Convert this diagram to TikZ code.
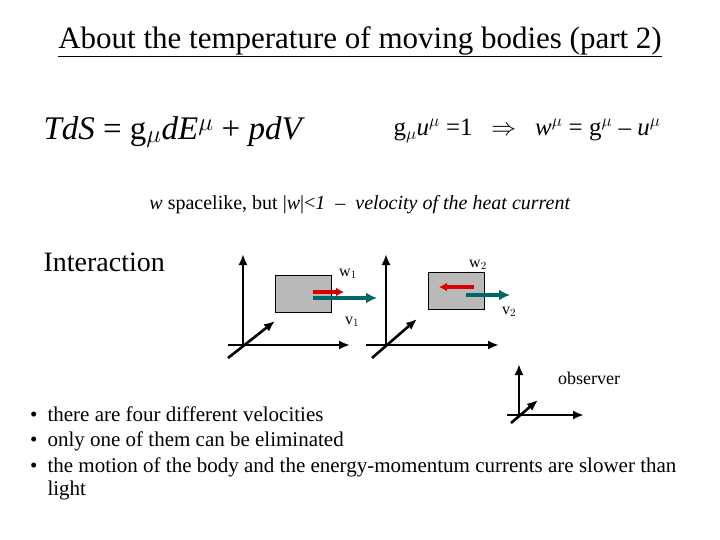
\documentclass[tikz,border=0pt]{standalone}
\usepackage{fontspec}
\setmainfont{Liberation Serif}
\usetikzlibrary{arrows.meta}
\newcommand{\sym}[1]{\textit{#1}}

\begin{document}
\begin{tikzpicture}[x=1pt, y=-1pt,
  axis/.style={line width=2.6pt, -{Latex[length=11pt,width=9pt]}},
  body/.style={draw, line width=0.8pt, fill=gray!55},
  heat/.style={red!85!black, line width=3.4pt, -{Latex[length=8pt,width=9pt]}},
  vel/.style={teal!80!black, line width=3.6pt, -{Latex[length=11pt,width=11pt]}},
  lbl/.style={font=\fontsize{16}{19}\selectfont}]

\useasboundingbox (0,0) rectangle (720,540);

\node (title) at (360,42) {\fontsize{31}{36}\selectfont\underline{About the temperature of moving bodies (part 2)}};

\node[anchor=west] (eqA) at (40,132) {\fontsize{33}{38}\selectfont \sym{TdS} = g$_{\mu}$\sym{dE}$^{\mu}$ + \sym{pdV}};
\node[anchor=west] (eqB) at (390,131) {\fontsize{25}{29}\selectfont g$_{\mu}$\sym{u}$^{\mu}$ =1 \ \ $\Rightarrow$ \ \ \sym{w}$^{\mu}$ = g$^{\mu}$ -- \sym{u}$^{\mu}$};

\node (note) at (360,205) {\fontsize{20}{24}\selectfont \sym{w} spacelike, but |\sym{w}|<\sym{1}\ \ --\ \ \sym{velocity of the heat current}};

\node[anchor=west] (inter) at (40,262) {\fontsize{28}{32}\selectfont Interaction};

% first frame
\coordinate (O1) at (243,345);
\draw[axis] (O1) -- (243,254);
\draw[axis] (228,345) -- (350,345);
\draw[axis] (228,358) -- (275,321);
\node[body, minimum width=56pt, minimum height=37pt, inner sep=0pt] (b1) at (303,293.5) {};
\draw[vel] (313,298) -- (377,298);
\draw[heat] (313,292) -- (344,292);
\node[lbl] (w1) at (348,274) {w$_1$};
\node[lbl] (v1) at (352,322) {v$_1$};

% second frame
\coordinate (O2) at (386,345);
\draw[axis] (O2) -- (386,254);
\draw[axis] (366,345) -- (499,345);
\draw[axis] (372,358) -- (417,319);
\node[body, minimum width=56pt, minimum height=37pt, inner sep=0pt] (b2) at (456,290.5) {};
\draw[vel] (466,295) -- (510,295);
\draw[heat] (474,287) -- (439,287);
\node[lbl] (w2) at (478,265) {w$_2$};
\node[lbl] (v2) at (509,312) {v$_2$};

% observer frame
\coordinate (O3) at (519,415);
\draw[axis] (O3) -- (519,364);
\draw[axis] (507,415) -- (584,415);
\draw[axis] (511,423) -- (538,400);
\node[font=\fontsize{18}{21}\selectfont] (obs) at (589,378) {observer};

% bullet list
\foreach \y/\t in {414/there are four different velocities,
                   441/only one of them can be eliminated,
                   467/the motion of the body and the energy-momentum currents are slower than}
  \node[anchor=west, font=\fontsize{21}{24}\selectfont] at (44,\y) {\llap{\textbullet\hspace{10pt}}\t};
\node[anchor=west, font=\fontsize{21}{24}\selectfont] (last) at (44,490) {light};

\end{tikzpicture}
\end{document}
